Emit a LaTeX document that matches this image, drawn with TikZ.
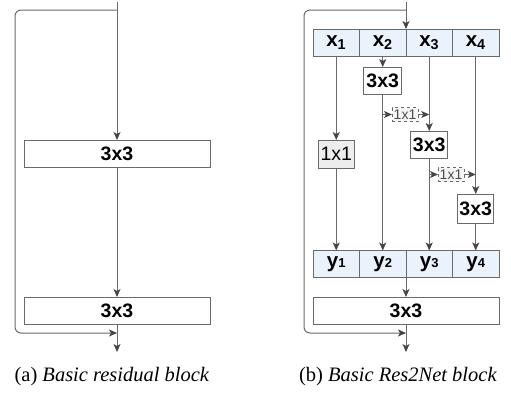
\documentclass[tikz,border=0pt]{standalone}
\usepackage{fontspec}
\setmainfont{Liberation Serif}
\setsansfont{Liberation Sans}
\usetikzlibrary{arrows.meta,positioning}
\definecolor{lnGray}{HTML}{6A6A6A}
\definecolor{tipGray}{HTML}{454545}
\definecolor{cellBlue}{HTML}{EAF2FB}
\newcommand\cellx[1]{\textbf{x}\textsubscript{\textbf{#1}}}
\newcommand\celly[1]{\textbf{y}{\fontsize{13}{13}\selectfont\textbf{#1}}}

\begin{document}
\begin{tikzpicture}[x=1pt,y=-1pt,font=\sffamily,
    every node/.style={inner sep=0pt,outer sep=0pt},
    link/.style={draw=lnGray,line width=1pt,-{Stealth[length=8pt,width=7pt,inset=2pt,color=tipGray]}},
    convbox/.style={draw=lnGray,line width=1pt,fill=white,font=\sffamily\bfseries\fontsize{19.5}{19.5}\selectfont},
    cellbox/.style={draw=lnGray,line width=1pt,fill=cellBlue,minimum width=46.5,minimum height=27,font=\sffamily\fontsize{20.5}{20.5}\selectfont},
    grayconv/.style={draw=lnGray,line width=1pt,fill=black!7,minimum width=36,minimum height=28,font=\sffamily\fontsize{19.5}{19.5}\selectfont},
    dashconv/.style={draw=lnGray,dashed,line width=0.7pt,fill=black!4,minimum width=26,minimum height=14,text=black!70,font=\sffamily\fontsize{14}{14}\selectfont},
    caption/.style={font=\fontsize{20.5}{20.5}\selectfont}]
	%% page size
	\useasboundingbox (0,0) rectangle (511,394);

	%% (a) basic residual block
	\coordinate (aIn) at (117,2);
	\coordinate (aSplit) at (117,10);
	\node[convbox,minimum width=186,minimum height=27] (aConv1) at (117,153.5) {3x3};
	\node[convbox,minimum width=186,minimum height=27] (aConv2) at (117,310.5) {3x3};
	\coordinate (aMerge) at (117,333);
	\coordinate (aOut) at (117,352);

	\draw[link] (aIn) -- (aConv1);
	\draw[link] (aConv1) -- (aConv2);
	\draw[link] (aConv2) -- (aOut);
	\draw[link,rounded corners=6] (aSplit) -- (15,10) -- (15,333) -- (aMerge);

	\node[caption] (aCap) at (112,377) {(a) \textit{Basic residual block}};

	%% (b) basic Res2Net block
	\coordinate (bIn) at (406,2);
	\coordinate (bSplit) at (406,10);
	\foreach \i/\cx in {1/336.25,2/382.75,3/429.25,4/475.75}{
		\node[cellbox] (x\i) at (\cx,42.5) {\cellx{\i}};
		\node[cellbox] (y\i) at (\cx,264) {\celly{\i}};
	}
	\node[grayconv] (g1) at (336.25,154) {1x1};
	\node[convbox,minimum width=38,minimum height=27] (c2) at (382.75,80.5) {3x3};
	\node[convbox,minimum width=37,minimum height=27] (c3) at (429.25,144.5) {3x3};
	\node[convbox,minimum width=36,minimum height=29] (c4) at (475.75,208.5) {3x3};
	\node[dashconv] (d2) at (405,114.5) {1x1};
	\node[dashconv] (d3) at (451,174.5) {1x1};
	\node[convbox,minimum width=186,minimum height=27] (bConv) at (406,310.5) {3x3};
	\coordinate (bMerge) at (406,333);
	\coordinate (bOut) at (406,352);

	\draw[link] (bIn) -- (bIn |- x3.north);
	\draw[link] (x1) -- (g1);
	\draw[link] (g1) -- (y1);
	\draw[link] (x2) -- (c2);
	\draw[link] (c2) -- (y2);
	\draw[link] (x3) -- (c3);
	\draw[link] (c3) -- (y3);
	\draw[link] (x4) -- (c4);
	\draw[link] (c4) -- (y4);
	\draw[link] (d2.west -| c2) -- (d2);
	\draw[link] (d2) -- (d2.east -| c3);
	\draw[link] (d3.west -| c3) -- (d3);
	\draw[link] (d3) -- (d3.east -| c4);
	\draw[link] (bIn |- y3.south) -- (bConv);
	\draw[link] (bConv) -- (bOut);
	\draw[link,rounded corners=6] (bSplit) -- (304,10) -- (304,333) -- (bMerge);

	\node[caption] (bCap) at (398,377) {(b) \textit{Basic Res2Net block}};
\end{tikzpicture}
\end{document}
